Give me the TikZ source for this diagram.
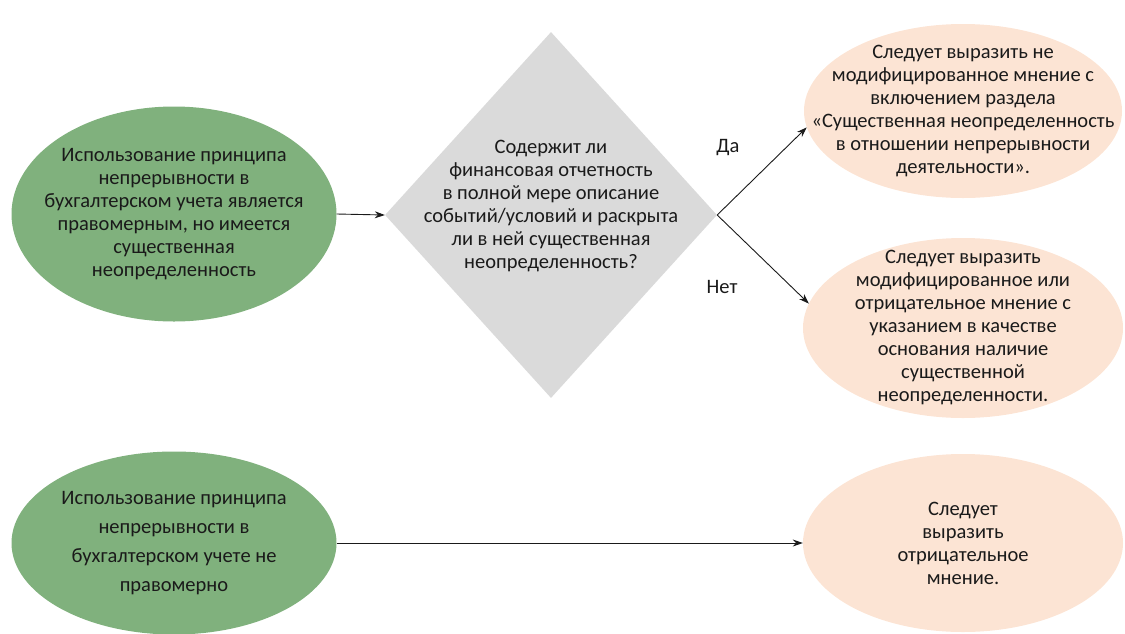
\documentclass[tikz,border=0pt]{standalone}
\usepackage{fontspec}
\setmainfont{Carlito}
\usetikzlibrary{shapes.geometric,arrows.meta}
\definecolor{leafgreen}{RGB}{128,177,125}
\definecolor{peach}{RGB}{252,228,212}
\definecolor{stone}{RGB}{218,218,218}
\definecolor{ink}{RGB}{26,26,26}
\begin{document}
\begin{tikzpicture}[x=1pt,y=-1pt,
  oval/.style={ellipse, inner sep=-80pt, align=center, text=ink,
    font=\fontsize{20.5}{23}\selectfont},
  premise/.style={oval, fill=leafgreen},
  outcome/.style={oval, fill=peach},
  caption/.style={text=ink, font=\fontsize{20.5}{23}\selectfont, inner sep=0pt},
  link/.style={-{Stealth[length=10pt,width=7pt]}, line width=0.9pt, draw=ink},
]
\useasboundingbox (0,0) rectangle (1125,633);

% left-hand premises
\node[premise, minimum width=325pt, minimum height=215pt] (lawful) at (174,214)
  {Использование принципа\\непрерывности в\\бухгалтерском учета является\\правомерным, но имеется\\существенная\\неопределенность};
\node[premise, minimum width=325pt, minimum height=183pt,
  font=\fontsize{20.5}{29}\selectfont] (unlawful) at (174,543)
  {Использование принципа\\непрерывности в\\бухгалтерском учете не\\правомерно};

% decision
\node[diamond, fill=stone, inner sep=0pt, minimum width=332pt, minimum height=366pt]
  (question) at (551,215) {};
\node[caption, align=center] (questiontext) at (551,206)
  {Содержит ли\\финансовая отчетность\\в полной мере описание\\событий/условий и раскрыта\\ли в ней существенная\\неопределенность?};

% outcomes
\node[outcome, minimum width=318pt, minimum height=174pt] (yesopinion) at (963,111)
  {Следует выразить не\\модифицированное мнение с\\включением раздела\\«Существенная неопределенность\\в отношении непрерывности\\деятельности».};
\node[outcome, minimum width=320pt, minimum height=180pt] (noopinion) at (963,328)
  {Следует выразить\\модифицированное или\\отрицательное мнение с\\указанием в качестве\\основания наличие\\существенной\\неопределенности.};
\node[outcome, minimum width=320pt, minimum height=178pt] (adverse) at (963,543)
  {Следует\\выразить\\отрицательное\\мнение.};

% connectors
\draw[link] (lawful.east) -- (question.west);
\draw[link] (question.east) -- (yesopinion.186);
\draw[link] (question.east) -- (noopinion.171);
\draw[link] (unlawful.east) -- (adverse.west);

\node[caption] (yeslabel) at (728,148) {Да};
\node[caption] (nolabel) at (722,287) {Нет};
\end{tikzpicture}
\end{document}
